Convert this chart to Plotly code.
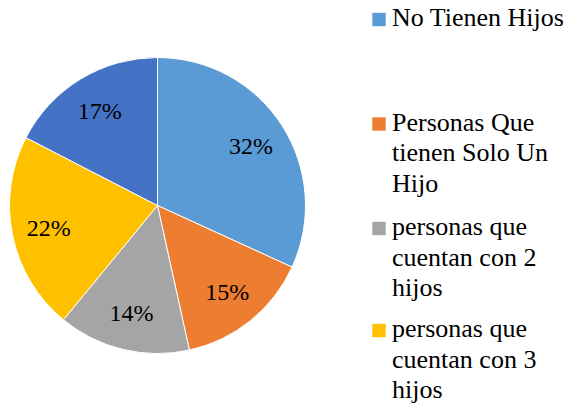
import plotly.graph_objects as go

labels = ["No Tienen Hijos", "Personas Que tienen Solo Un Hijo",
          "personas que cuentan con 2 hijos", "personas que cuentan con 3 hijos",
          "personas que cuentan con 4 o más hijos"]
legend_lines = [["No Tienen Hijos"], ["Personas Que", "tienen Solo Un", "Hijo"],
                ["personas que", "cuentan con 2", "hijos"],
                ["personas que", "cuentan con 3", "hijos"]]
values = [31.8, 14.7, 14.4, 21.6, 17.4]
pct_text = ["32%", "15%", "14%", "22%", "17%"]
colors = ["#5B9BD5", "#ED7D31", "#A5A5A5", "#FFC000", "#4472C4"]

OFF = 8  # page body margin
W, H = 572 - OFF, 410 - OFF
FONT = "Times New Roman"
LEG_SIZE = 26


def px(x):
    return (x - OFF) / W


def py(y):
    return 1 - (y - OFF) / H


dom = dict(x=[px(9.5), px(305.5)], y=[py(353.5), py(57.5)])

fig = go.Figure()
fig.add_trace(go.Pie(
    labels=labels, values=values, textinfo="none",
    sort=False, direction="clockwise", rotation=0,
    marker=dict(colors=colors, line=dict(color="white", width=1)),
    domain=dom, showlegend=False, hoverinfo="label+percent",
))
# transparent ring carrying the percentage labels (places them outward like Excel)
fig.add_trace(go.Pie(
    labels=labels, values=values, text=pct_text, textinfo="text",
    sort=False, direction="clockwise", rotation=0, hole=0.5,
    marker=dict(colors=["rgba(0,0,0,0)"] * len(values), line=dict(width=0)),
    textposition="inside", insidetextorientation="horizontal",
    textfont=dict(family=FONT, size=24, color="black"),
    domain=dom, showlegend=False, hoverinfo="skip",
))

sq_centers = [19.5, 124, 228.5, 330.5]
LINE_H = 30.5
for lines, col, cy in zip(legend_lines, colors, sq_centers):
    fig.add_shape(type="rect", xref="paper", yref="paper",
                  x0=px(372.3), x1=px(385.7), y0=py(cy + 6.7), y1=py(cy - 6.7),
                  fillcolor=col, line=dict(width=0))
    base0 = cy + 7.3
    for k, line in enumerate(lines):
        baseline = base0 + k * LINE_H
        fig.add_annotation(xref="paper", yref="paper", x=px(389.5),
                           y=py(baseline - 0.34 * LEG_SIZE),
                           xanchor="left", yanchor="middle", align="left",
                           showarrow=False, text=line,
                           font=dict(family=FONT, size=LEG_SIZE, color="black"))

fig.update_layout(width=W, height=H, margin=dict(l=0, r=0, t=0, b=0),
                  font=dict(family=FONT, size=24, color="black"),
                  paper_bgcolor="white", plot_bgcolor="white")
fig.write_html("out.html")
